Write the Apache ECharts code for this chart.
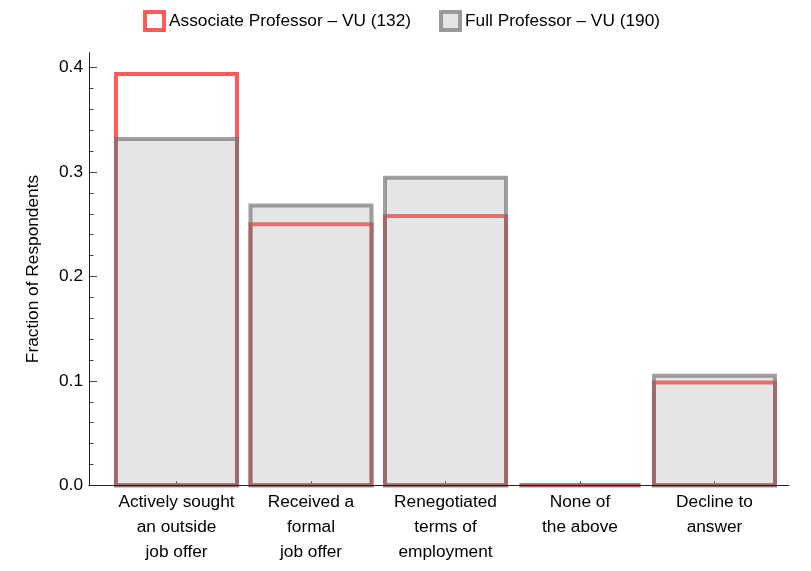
<!DOCTYPE html>
<html>
<head>
<meta charset="utf-8">
<script src="https://cdn.jsdelivr.net/npm/echarts@6/dist/echarts.min.js"></script>
<style>
html,body{margin:0;padding:0;background:#fff;}
#chart{width:811px;height:571px;}
</style>
</head>
<body>
<div id="chart"></div>
<script>
const categories = [
  "Actively sought\nan outside\njob offer",
  "Received a\nformal\njob offer",
  "Renegotiated\nterms of\nemployment",
  "None of\nthe above",
  "Decline to\nanswer"
];
const associateName = "Associate Professor \u2013 VU (132)";
const fullName = "Full Professor \u2013 VU (190)";
const associateValues = [0.394, 0.250, 0.258, 0.0, 0.0985];
const fullValues = [0.3316, 0.268, 0.2947, 0.0, 0.105];
const yTicks = [0, 0.1, 0.2, 0.3, 0.4];

const FONT = "Liberation Sans, Arial, sans-serif";
const FS = 17.3;
const chart = echarts.init(document.getElementById('chart'), null, {renderer: 'canvas'});

const plotTop = 67.7, plotBottom = 571 - 485.3;
const bandLeft = 109.25, bandRight = 811 - 781.75;
const axisLeft = 89, axisRight = 811 - 789, axisTop = 52.7;

const redStroke = '#ff5a5a';
const greyStroke = 'rgba(110,110,110,0.65)';
const greyFill = 'rgba(160,160,160,0.28)';
const barRatio = 0.9;

function makeRender(fill, stroke) {
  return function (params, api) {
    const idx = api.value(0);
    const v = api.value(1);
    const top = api.coord([idx, v]);
    const base = api.coord([idx, 0]);
    const w = api.size([1, 0])[0] * barRatio;
    return {
      type: 'rect',
      shape: {x: top[0] - w / 2, y: top[1], width: w, height: base[1] - top[1]},
      style: {fill: fill, stroke: stroke, lineWidth: 4}
    };
  };
}

chart.setOption({
  animation: false,
  textStyle: {fontFamily: FONT},
  legend: {
    top: 5,
    left: 138,
    itemWidth: 19,
    itemHeight: 18,
    itemGap: 28,
    icon: 'rect',
    textStyle: {fontSize: FS, color: '#000', fontFamily: FONT},
    data: [
      {name: associateName, itemStyle: {color: '#fff', borderColor: redStroke, borderWidth: 4}},
      {name: fullName, itemStyle: {color: '#e4e4e4', borderColor: '#999', borderWidth: 4}}
    ]
  },
  grid: [
    {left: bandLeft, right: bandRight, top: plotTop, bottom: plotBottom},
    {left: axisLeft, right: axisRight, top: axisTop, bottom: plotBottom}
  ],
  xAxis: [
    {
      type: 'category', gridIndex: 0, data: categories, boundaryGap: true,
      axisLine: {show: false},
      axisTick: {show: true, inside: true, length: 4, alignWithLabel: true, lineStyle: {color: '#333', width: 1}},
      axisLabel: {margin: 4, fontSize: FS, lineHeight: 25, color: '#000', fontFamily: FONT, interval: 0},
      splitLine: {show: false}
    },
    {
      type: 'value', gridIndex: 1, min: 0, max: 1, z: 10,
      axisLine: {show: true, onZero: false, lineStyle: {color: '#222', width: 1}},
      axisTick: {show: false}, axisLabel: {show: false}, splitLine: {show: false}
    }
  ],
  yAxis: [
    {
      type: 'value', gridIndex: 0, min: yTicks[0], max: yTicks[yTicks.length - 1], interval: 0.1,
      offset: bandLeft - axisLeft,
      axisLine: {show: false},
      axisTick: {show: true, inside: true, length: 8, lineStyle: {color: '#444', width: 1}},
      minorTick: {show: true, splitNumber: 5, length: 4.5, lineStyle: {color: '#444', width: 1}},
      axisLabel: {margin: 6, fontSize: FS, color: '#000', fontFamily: FONT, formatter: v => v.toFixed(1)},
      splitLine: {show: false}
    },
    {
      type: 'value', gridIndex: 1, min: 0, max: 1, z: 10,
      name: 'Fraction of Respondents', nameLocation: 'middle', nameGap: 47, nameRotate: 90,
      nameTextStyle: {fontSize: FS, color: '#000', fontFamily: FONT},
      axisLine: {show: true, onZero: false, lineStyle: {color: '#222', width: 1}},
      axisTick: {show: false}, axisLabel: {show: false}, splitLine: {show: false}
    }
  ],
  series: [
    {
      name: associateName, type: 'custom', xAxisIndex: 0, yAxisIndex: 0,
      data: associateValues.map((v, i) => [i, v]),
      encode: {x: 0, y: 1},
      renderItem: makeRender('rgba(255,255,255,0)', redStroke),
      itemStyle: {color: '#fff', borderColor: redStroke, borderWidth: 4},
      emphasis: {disabled: true}
    },
    {
      name: fullName, type: 'custom', xAxisIndex: 0, yAxisIndex: 0,
      data: fullValues.map((v, i) => [i, v]),
      encode: {x: 0, y: 1},
      renderItem: makeRender(greyFill, greyStroke),
      itemStyle: {color: '#e4e4e4', borderColor: '#999', borderWidth: 4},
      emphasis: {disabled: true}
    }
  ]
});
</script>
</body>
</html>
